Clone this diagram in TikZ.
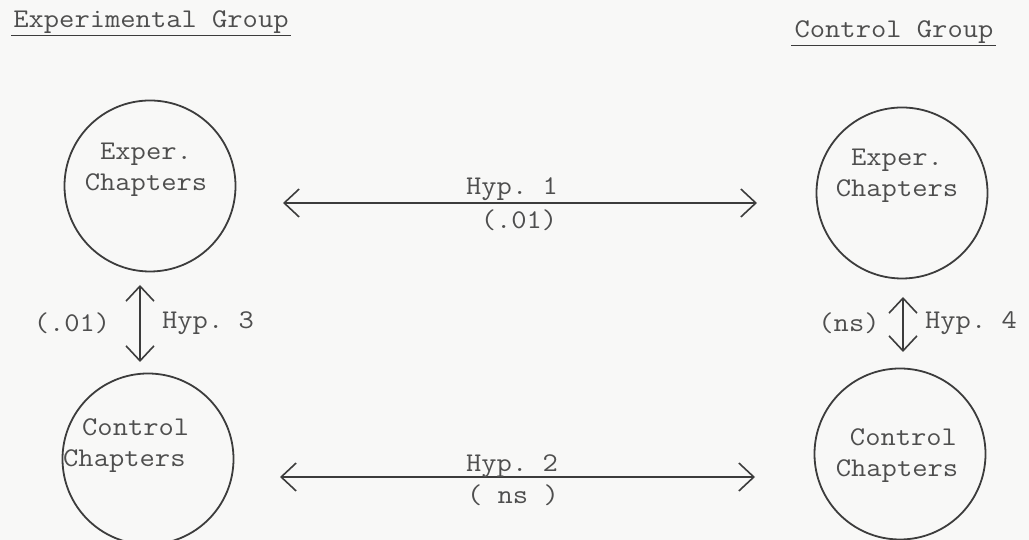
\documentclass[tikz,border=0pt]{standalone}
\usepackage{fontspec}
\setmonofont{Latin Modern Mono}[FakeStretch=1.1]
\usetikzlibrary{arrows.meta}
\definecolor{paper}{RGB}{248,248,247}
\definecolor{ink}{RGB}{78,78,78}
\definecolor{pen}{RGB}{60,60,60}
\begin{document}
\begin{tikzpicture}[x=1pt,y=1pt,
  every node/.style={font=\ttfamily\fontsize{27}{31}\selectfont, text=ink, inner sep=0pt},
  chapter/.style={circle, draw=pen, line width=1.8pt, minimum size=171pt},
  ctext/.style={align=center},
  hyp/.style={draw=pen, line width=1.6pt,
    {Straight Barb[length=15pt,width=28pt,line width=1.6pt]}-{Straight Barb[length=15pt,width=28pt,line width=1.6pt]}},
  uline/.style={draw=pen, line width=1.4pt}]
  % page
  \fill[paper] (0,0) rectangle (1029,540);
  \useasboundingbox (0,0) rectangle (1029,540);

  % group titles
  \node (tExp) at (151,518) {Experimental Group};
  \node (tCon) at (894,508) {Control Group};
  \draw[uline] ([xshift=-2pt,yshift=-8pt]tExp.base west) -- ([xshift=2pt,yshift=-8pt]tExp.base east);
  \draw[uline] ([xshift=-3pt,yshift=-8pt]tCon.base west) -- ([xshift=2pt,yshift=-8pt]tCon.base east);

  % chapter circles
  \node[chapter] (e1) at (150,354) {};
  \node[chapter] (c1) at (148,81) {};
  \node[chapter] (e2) at (902,347) {};
  \node[chapter] (c2) at (900,86) {};

  % circle texts
  \node[ctext] (e1t) at (146,370) {Exper.\\Chapters};
  \node[align=left, anchor=west] (c1t) at (63,94) {\hspace{19pt}Control\\Chapters};
  \node[ctext] (e2t) at (897,364) {Exper.\\Chapters};
  \node[ctext] (c2t) at (897,84) {\hspace{13pt}Control\\Chapters};

  % arrow end points
  \coordinate (h1a) at (283,337);
  \coordinate (h1b) at (757,337);
  \coordinate (h2a) at (280,63);
  \coordinate (h2b) at (755,63);
  \coordinate (h3a) at (140,255);
  \coordinate (h3b) at (140,178);
  \coordinate (h4a) at (903,243);
  \coordinate (h4b) at (903,188);

  % hypotheses
  \draw[hyp] (h1a) -- (h1b);
  \draw[hyp] (h2a) -- (h2b);
  \draw[hyp] (h3a) -- (h3b);
  \draw[hyp] (h4a) -- (h4b);

  % labels
  \node (l1a) at (512,351) {Hyp. 1};
  \node (l1b) at (519,320) {(.01)};
  \node (l2a) at (512,74) {Hyp. 2};
  \node (l2b) at (513,45) {( ns )};
  \node (l3a) at (72,217) {(.01)};
  \node (l3b) at (208,217) {Hyp. 3};
  \node (l4a) at (849,217) {(ns)};
  \node (l4b) at (971,217) {Hyp. 4};
\end{tikzpicture}
\end{document}
